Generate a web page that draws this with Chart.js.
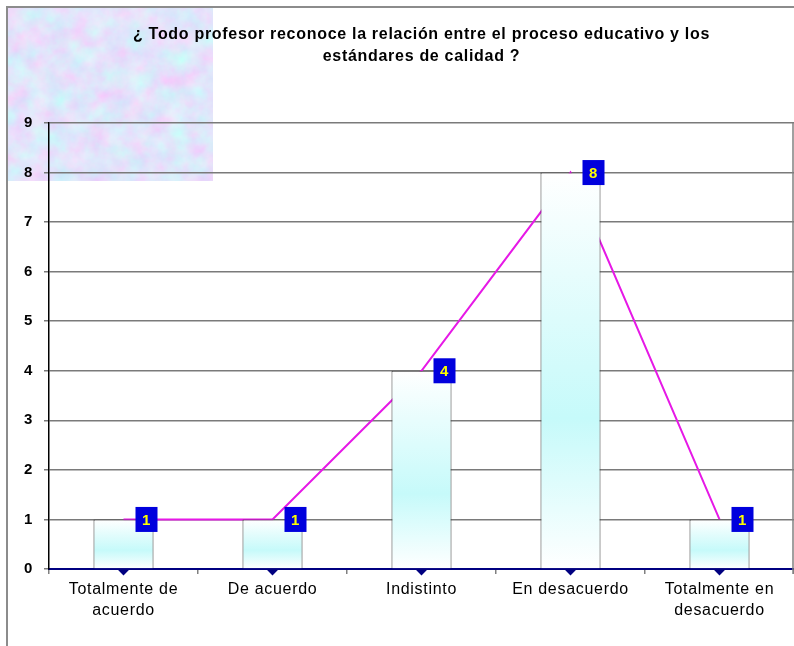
<!DOCTYPE html>
<html lang="es">
<head>
<meta charset="utf-8">
<title>Reconocimiento de estándares de calidad</title>
<script src="https://cdn.jsdelivr.net/npm/chart.js@4.4.1/dist/chart.umd.min.js"></script>
<style>
  html, body { margin: 0; padding: 0; background: #ffffff; }
  #marco { position: relative; width: 794px; height: 646px; overflow: hidden; }
  #borde { position: absolute; left: 6px; top: 6px; width: 820px; height: 700px;
           border-top: 2px solid #8c8c8c; border-left: 2px solid #8c8c8c; }
  #textura { position: absolute; left: 8px; top: 8px; width: 205px; height: 173px; }
  #grafico { position: absolute; left: 0; top: 0; }
</style>
</head>
<body>
<div id="marco">
  <div id="borde"></div>
  <!-- fondo jaspeado de la esquina superior izquierda -->
  <svg id="textura" width="205" height="173">
    <filter id="jaspe" x="0" y="0" width="100%" height="100%">
      <feTurbulence type="fractalNoise" baseFrequency="0.05" numOctaves="4" seed="11"/>
      <feColorMatrix type="matrix"
        values="0.45 0 0 0 0.53
                -0.3 0.3 0 0 0.78
                0 0 0.06 0 0.93
                0 0 0 0 1"/>
    </filter>
    <rect width="205" height="173" filter="url(#jaspe)"/>
  </svg>
  <canvas id="grafico" width="794" height="646"></canvas>
</div>
<script>
// Datos del gráfico
const tituloLineas = [
  '¿ Todo profesor reconoce la relación entre el proceso educativo y los',
  'estándares de calidad ?'
];
const categorias = [
  ['Totalmente de', 'acuerdo'],
  'De acuerdo',
  'Indistinto',
  'En desacuerdo',
  ['Totalmente en', 'desacuerdo']
];
const respuestas = [1, 1, 4, 8, 1];
const lineaBase = [0, 0, 0, 0, 0];
const ejeYMin = 0;
const ejeYMax = 9;
const ejeYPaso = 1;

const fuente = 'Arial, "Liberation Sans", sans-serif';

// Degradado blanco -> celeste -> blanco dentro de cada barra
function degradadoBarra(context) {
  const chart = context.chart;
  if (!chart.chartArea || context.raw === undefined) return '#e6ffff';
  const y = chart.scales.y;
  const arriba = y.getPixelForValue(context.raw);
  const abajo = y.getPixelForValue(0);
  const g = chart.ctx.createLinearGradient(0, arriba, 0, abajo);
  g.addColorStop(0, '#ffffff');
  g.addColorStop(0.62, '#c6fafa');
  g.addColorStop(1, '#ffffff');
  return g;
}

// El texto del original sale algo espaciado
const espaciadoTexto = {
  id: 'espaciadoTexto',
  beforeLayout(chart) { chart.ctx.letterSpacing = '0.7px'; },
  beforeDraw(chart) { chart.ctx.letterSpacing = '0.7px'; }
};

// Cajas azules con el valor en amarillo
const etiquetasValor = {
  id: 'etiquetasValor',
  afterDatasetsDraw(chart) {
    const meta = chart.getDatasetMeta(0);
    const ctx = chart.ctx;
    ctx.save();
    meta.data.forEach((barra, i) => {
      const cx = barra.x + 23;
      const cy = barra.y;
      ctx.fillStyle = '#0000dd';
      ctx.fillRect(cx - 11, cy - 12.5, 22, 25);
      ctx.fillStyle = '#ffff00';
      ctx.font = 'bold 15px ' + fuente;
      ctx.textAlign = 'center';
      ctx.textBaseline = 'middle';
      ctx.fillText(String(respuestas[i]), cx, cy + 1);
    });
    ctx.restore();
  }
};

// Borde derecho del área de trazado
const bordeDerecho = {
  id: 'bordeDerecho',
  afterDraw(chart) {
    const { ctx, chartArea } = chart;
    ctx.save();
    ctx.strokeStyle = '#808080';
    ctx.lineWidth = 1.5;
    ctx.beginPath();
    ctx.moveTo(chartArea.right - 1, chartArea.top);
    ctx.lineTo(chartArea.right - 1, chartArea.bottom + 5);
    ctx.stroke();
    ctx.restore();
  }
};

new Chart(document.getElementById('grafico'), {
  type: 'bar',
  data: {
    labels: categorias,
    datasets: [
      {
        type: 'bar',
        label: 'Respuestas',
        data: respuestas,
        backgroundColor: degradadoBarra,
        borderColor: '#3a3a3a',
        borderWidth: 1,
        barPercentage: 0.403,
        categoryPercentage: 1,
        order: 1
      },
      {
        type: 'line',
        label: 'Tendencia',
        data: respuestas,
        borderColor: '#e619e6',
        borderWidth: 2,
        pointRadius: 0,
        tension: 0,
        order: 2
      },
      {
        type: 'line',
        label: 'Base',
        data: lineaBase,
        borderColor: '#000080',
        backgroundColor: '#000080',
        borderWidth: 2,
        pointStyle: 'rectRot',
        pointRadius: 5,
        clip: false,
        order: 3
      }
    ]
  },
  options: {
    responsive: false,
    animation: false,
    layout: { padding: 0, autoPadding: false },
    plugins: {
      legend: { display: false },
      tooltip: { enabled: false },
      title: {
        display: true,
        text: tituloLineas,
        fullSize: false,
        color: '#000000',
        font: { family: fuente, size: 16, weight: 'bold', lineHeight: '22px' },
        padding: { top: 24, bottom: 55 }
      }
    },
    scales: {
      x: {
        offset: true,
        grid: {
          offset: true,
          drawOnChartArea: false,
          tickLength: 5,
          color: '#808080',
          lineWidth: 1.5
        },
        border: { color: '#000080', width: 2 },
        ticks: {
          color: '#000000',
          padding: 5,
          maxRotation: 0,
          autoSkip: false,
          font: { family: fuente, size: 16, lineHeight: '21px' }
        },
        afterFit(scale) {
          scale.height = 77;
          scale.paddingLeft = 0;
          scale.paddingRight = 0;
        }
      },
      y: {
        min: ejeYMin,
        max: ejeYMax,
        grid: {
          color: '#7a7a7a',
          lineWidth: 1.5,
          tickLength: 5
        },
        border: { color: '#000000', width: 1.5 },
        ticks: {
          stepSize: ejeYPaso,
          color: '#000000',
          padding: 11,
          font: { family: fuente, size: 15, weight: 'bold' }
        },
        afterFit(scale) { scale.width = 49; }
      }
    }
  },
  plugins: [espaciadoTexto, etiquetasValor, bordeDerecho]
});
</script>
</body>
</html>
